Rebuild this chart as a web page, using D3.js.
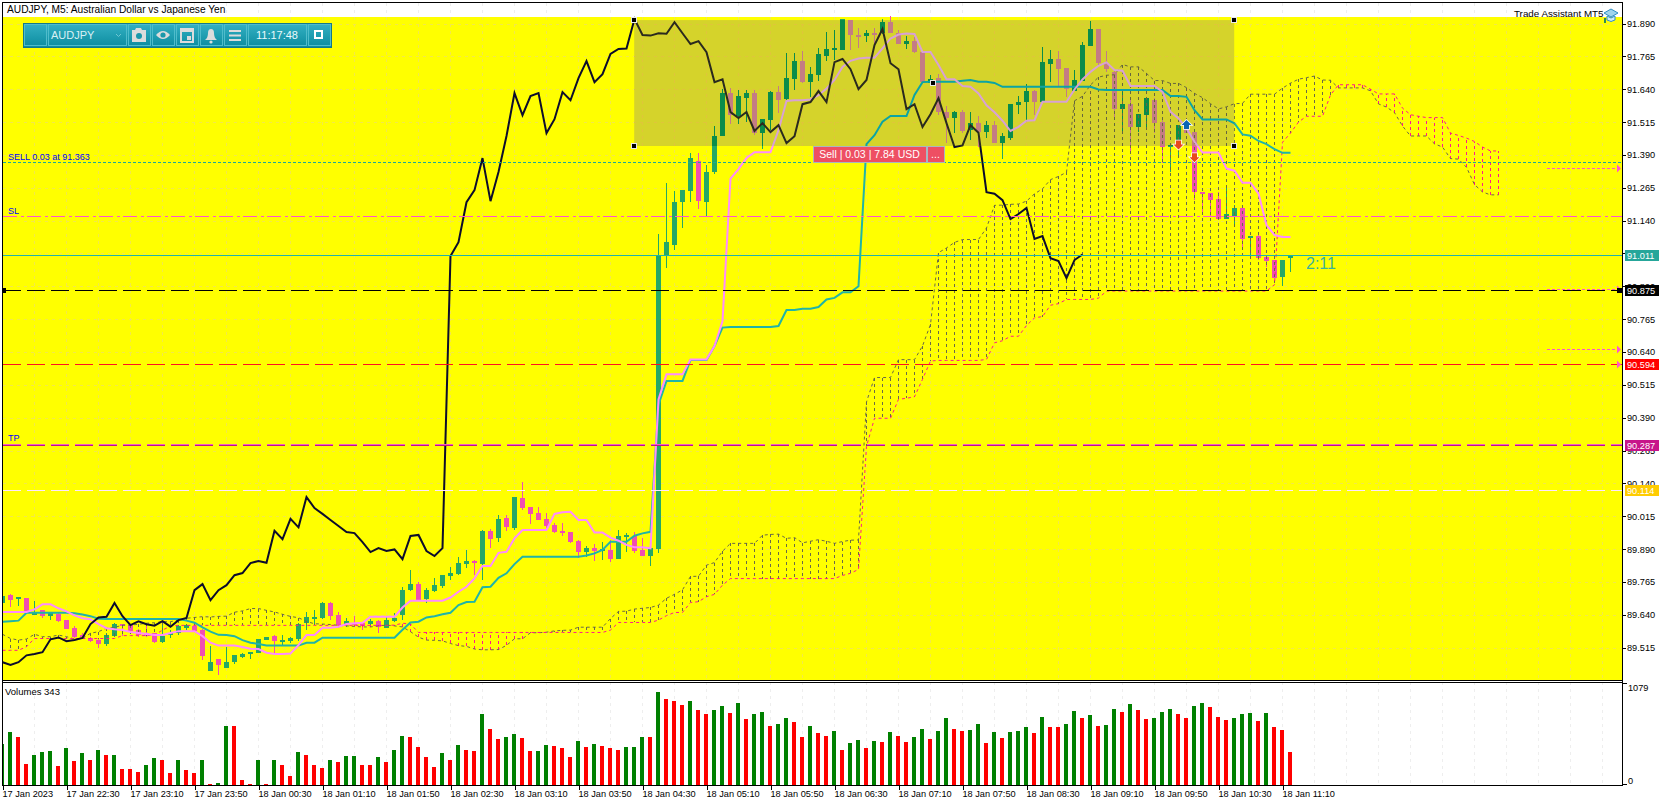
<!DOCTYPE html>
<html><head><meta charset="utf-8">
<script src="https://cdn.jsdelivr.net/npm/d3@7/dist/d3.min.js"></script>
<style>
html,body{margin:0;padding:0;background:#fff;overflow:hidden}
svg{display:block}
text{font-family:"Liberation Sans",Arial,sans-serif;font-size:9.2px;fill:#000}
</style></head><body>
<svg id="c" width="1670" height="806"></svg>
<script>
const opens=[89.684,89.715,89.705,89.704,89.646,89.658,89.637,89.643,89.620,89.590,89.562,89.553,89.544,89.529,89.559,89.605,89.601,89.582,89.570,89.570,
89.537,89.567,89.570,89.591,89.597,89.582,89.426,89.471,89.438,89.460,89.478,89.496,89.496,89.544,89.559,89.542,89.540,89.548,89.610,89.630,
89.628,89.685,89.639,89.605,89.609,89.608,89.604,89.615,89.591,89.618,89.641,89.734,89.757,89.699,89.732,89.751,89.789,89.795,89.833,89.846,
89.833,89.959,89.932,90.008,89.969,90.084,90.050,90.027,90.005,89.982,89.959,89.955,89.921,89.879,89.894,89.885,89.887,89.852,89.936,89.940,
89.887,89.864,89.890,91.005,91.047,91.210,91.252,91.366,91.210,91.325,91.462,91.625,91.538,91.606,91.625,91.473,91.522,91.629,91.602,91.678,
91.747,91.667,91.694,91.766,91.791,91.789,91.903,91.848,91.842,91.855,91.853,91.895,91.853,91.812,91.823,91.781,91.663,91.682,91.553,91.530,
91.553,91.484,91.511,91.477,91.503,91.435,91.454,91.579,91.591,91.633,91.591,91.735,91.755,91.720,91.633,91.671,91.804,91.869,91.739,91.705,
91.564,91.583,91.496,91.541,91.598,91.515,91.422,91.443,91.487,91.477,91.248,91.245,91.222,91.146,91.157,91.188,91.077,91.081,91.001,90.990,
90.925,90.996];
const highs=[89.715,89.719,89.708,89.704,89.692,89.658,89.646,89.646,89.620,89.597,89.570,89.557,89.553,89.570,89.608,89.605,89.605,89.585,89.605,89.572,
89.618,89.582,89.601,89.605,89.601,89.585,89.523,89.471,89.517,89.486,89.496,89.498,89.547,89.554,89.563,89.563,89.557,89.608,89.651,89.658,
89.687,89.687,89.652,89.627,89.635,89.614,89.624,89.620,89.633,89.646,89.747,89.810,89.766,89.741,89.779,89.791,89.823,89.859,89.887,89.849,
89.963,89.965,90.020,90.020,90.088,90.145,90.050,90.050,90.027,89.988,89.991,89.955,89.925,89.902,89.909,89.917,89.925,89.963,89.950,89.956,
89.931,89.894,91.089,91.283,91.252,91.256,91.397,91.397,91.351,91.500,91.640,91.644,91.637,91.637,91.637,91.526,91.634,91.652,91.777,91.777,
91.785,91.724,91.796,91.857,91.865,91.907,91.903,91.872,91.865,91.872,91.907,91.918,91.865,91.842,91.839,91.781,91.694,91.697,91.576,91.557,
91.560,91.553,91.538,91.519,91.519,91.473,91.583,91.614,91.659,91.637,91.800,91.789,91.785,91.720,91.713,91.819,91.899,91.869,91.785,91.713,
91.637,91.598,91.545,91.611,91.605,91.522,91.426,91.503,91.491,91.477,91.248,91.245,91.250,91.275,91.199,91.188,91.081,91.097,91.009,90.990,
90.990,91.011];
const lows=[89.677,89.671,89.674,89.646,89.643,89.627,89.620,89.613,89.585,89.553,89.553,89.538,89.515,89.523,89.557,89.559,89.576,89.557,89.557,89.534,
89.534,89.553,89.563,89.582,89.576,89.468,89.426,89.412,89.438,89.453,89.474,89.473,89.496,89.544,89.493,89.523,89.531,89.542,89.582,89.601,
89.624,89.620,89.589,89.595,89.592,89.582,89.595,89.572,89.589,89.614,89.620,89.732,89.696,89.686,89.728,89.741,89.772,89.791,89.819,89.791,
89.772,89.895,89.918,89.959,89.963,90.039,89.986,90.001,89.969,89.950,89.941,89.912,89.855,89.859,89.845,89.849,89.842,89.852,89.879,89.874,
89.864,89.826,89.874,90.959,91.028,91.112,91.210,91.184,91.155,91.317,91.462,91.507,91.507,91.515,91.465,91.412,91.484,91.548,91.598,91.637,
91.662,91.610,91.671,91.747,91.751,91.789,91.789,91.796,91.819,91.808,91.850,91.852,91.812,91.793,91.776,91.667,91.656,91.541,91.434,91.472,
91.472,91.446,91.420,91.453,91.434,91.374,91.446,91.545,91.515,91.541,91.591,91.667,91.649,91.611,91.633,91.671,91.804,91.732,91.706,91.522,
91.472,91.396,91.478,91.484,91.472,91.361,91.326,91.383,91.474,91.218,91.167,91.155,91.146,91.146,91.129,91.028,91.009,90.990,90.964,90.921,
90.891,90.945];
const closes=[89.712,89.698,89.707,89.656,89.648,89.635,89.646,89.616,89.586,89.557,89.557,89.542,89.529,89.562,89.605,89.599,89.578,89.563,89.561,89.537,
89.561,89.570,89.597,89.600,89.580,89.484,89.460,89.449,89.460,89.486,89.491,89.498,89.547,89.554,89.540,89.544,89.552,89.605,89.630,89.633,
89.685,89.635,89.601,89.615,89.604,89.599,89.616,89.595,89.620,89.628,89.734,89.757,89.696,89.734,89.753,89.791,89.799,89.837,89.845,89.838,
89.960,89.928,90.005,89.973,90.088,90.046,90.024,90.001,89.978,89.955,89.951,89.917,89.879,89.894,89.883,89.889,89.852,89.940,89.944,89.883,
89.864,89.894,91.005,91.058,91.210,91.256,91.378,91.214,91.325,91.462,91.625,91.541,91.614,91.625,91.473,91.526,91.629,91.598,91.682,91.747,
91.667,91.697,91.774,91.793,91.795,91.907,91.846,91.844,91.853,91.851,91.895,91.853,91.812,91.823,91.781,91.667,91.678,91.553,91.530,91.553,
91.481,91.511,91.477,91.503,91.435,91.461,91.583,91.591,91.633,91.591,91.743,91.755,91.716,91.640,91.675,91.808,91.869,91.739,91.716,91.564,
91.583,91.496,91.545,91.606,91.511,91.420,91.426,91.503,91.474,91.248,91.242,91.218,91.146,91.165,91.188,91.070,91.081,90.997,90.986,90.921,
90.990,91.011];
const tenkan=[89.651,89.651,89.651,89.651,89.661,89.680,89.680,89.665,89.653,89.638,89.627,89.623,89.605,89.589,89.585,89.582,89.575,89.571,89.567,89.563,
89.563,89.571,89.578,89.578,89.578,89.559,89.534,89.523,89.523,89.523,89.518,89.511,89.510,89.496,89.491,89.491,89.493,89.525,89.563,89.563,
89.591,89.591,89.595,89.605,89.608,89.610,89.633,89.633,89.633,89.633,89.668,89.694,89.694,89.694,89.694,89.694,89.706,89.728,89.747,89.779,
89.826,89.826,89.876,89.880,89.931,89.963,89.963,89.963,89.963,90.024,90.030,90.032,90.001,90.001,89.953,89.953,89.934,89.922,89.906,89.897,
89.897,89.893,90.460,90.555,90.555,90.555,90.612,90.612,90.612,90.663,90.757,91.300,91.336,91.378,91.400,91.400,91.400,91.484,91.595,91.598,
91.598,91.601,91.617,91.643,91.675,91.725,91.748,91.757,91.760,91.760,91.795,91.833,91.848,91.852,91.850,91.782,91.782,91.732,91.678,91.678,
91.652,91.649,91.624,91.579,91.552,91.520,91.481,91.497,91.520,91.522,91.592,91.592,91.592,91.592,91.639,91.677,91.706,91.729,91.742,91.713,
91.710,91.652,91.652,91.652,91.652,91.630,91.554,91.529,91.491,91.440,91.399,91.399,91.399,91.338,91.330,91.284,91.284,91.243,91.123,91.085,
91.078,91.078];
const kijun=[89.614,89.616,89.618,89.648,89.648,89.648,89.648,89.648,89.648,89.646,89.641,89.635,89.625,89.624,89.624,89.624,89.624,89.624,89.624,89.624,
89.624,89.624,89.624,89.618,89.610,89.592,89.576,89.564,89.563,89.559,89.544,89.534,89.529,89.523,89.523,89.523,89.523,89.523,89.534,89.534,
89.553,89.553,89.553,89.553,89.553,89.553,89.553,89.553,89.553,89.553,89.583,89.611,89.614,89.630,89.635,89.642,89.648,89.677,89.689,89.690,
89.745,89.747,89.781,89.798,89.833,89.861,89.861,89.861,89.861,89.861,89.861,89.861,89.861,89.866,89.874,89.887,89.918,89.918,89.918,89.941,
89.950,89.956,90.440,90.530,90.530,90.530,90.610,90.610,90.610,90.663,90.733,90.735,90.735,90.735,90.735,90.735,90.735,90.739,90.800,90.800,
90.805,90.805,90.811,90.840,90.846,90.867,90.867,90.890,91.431,91.465,91.516,91.538,91.538,91.538,91.618,91.667,91.668,91.668,91.668,91.668,
91.672,91.675,91.668,91.668,91.664,91.649,91.649,91.649,91.649,91.649,91.649,91.649,91.649,91.649,91.649,91.649,91.649,91.639,91.637,91.637,
91.637,91.637,91.637,91.637,91.637,91.637,91.614,91.614,91.611,91.560,91.525,91.525,91.525,91.525,91.510,91.468,91.463,91.443,91.431,91.412,
91.398,91.398];
const chikou=[89.460,89.449,89.460,89.486,89.491,89.498,89.547,89.554,89.540,89.544,89.552,89.605,89.630,89.633,89.685,89.635,89.601,89.615,89.604,89.599,
89.616,89.595,89.620,89.628,89.734,89.757,89.696,89.734,89.753,89.791,89.799,89.837,89.845,89.838,89.960,89.928,90.005,89.973,90.088,90.046,
90.024,90.001,89.978,89.955,89.951,89.917,89.879,89.894,89.883,89.889,89.852,89.940,89.944,89.883,89.864,89.894,91.005,91.058,91.210,91.256,
91.378,91.214,91.325,91.462,91.625,91.541,91.614,91.625,91.473,91.526,91.629,91.598,91.682,91.747,91.667,91.697,91.774,91.793,91.795,91.907,
91.846,91.844,91.853,91.851,91.895,91.853,91.812,91.823,91.781,91.667,91.678,91.553,91.530,91.553,91.481,91.511,91.477,91.503,91.435,91.461,
91.583,91.591,91.633,91.591,91.743,91.755,91.716,91.640,91.675,91.808,91.869,91.739,91.716,91.564,91.583,91.496,91.545,91.606,91.511,91.420,
91.426,91.503,91.474,91.248,91.242,91.218,91.146,91.165,91.188,91.070,91.081,90.997,90.986,90.921,90.990,91.011];
const spanA=[89.566,89.550,89.544,89.548,89.566,89.557,89.557,89.563,89.557,89.548,89.550,89.570,89.576,89.589,89.592,89.601,89.601,89.604,89.608,89.610,
89.614,89.614,89.620,89.627,89.630,89.633,89.632,89.634,89.635,89.650,89.655,89.664,89.664,89.657,89.651,89.642,89.634,89.629,89.615,89.606,
89.605,89.603,89.600,89.598,89.596,89.594,89.594,89.598,89.601,89.598,89.594,89.576,89.555,89.544,89.543,89.541,89.531,89.523,89.520,89.510,
89.507,89.507,89.508,89.524,89.549,89.549,89.572,89.572,89.574,89.579,89.581,89.582,89.593,89.593,89.593,89.593,89.626,89.653,89.654,89.662,
89.665,89.668,89.677,89.703,89.718,89.735,89.786,89.787,89.829,89.839,89.882,89.912,89.912,89.912,89.912,89.943,89.946,89.947,89.931,89.934,
89.914,89.920,89.926,89.920,89.912,89.919,89.924,89.925,90.450,90.543,90.543,90.543,90.611,90.611,90.611,90.663,90.745,91.018,91.036,91.057,
91.068,91.068,91.068,91.112,91.198,91.199,91.202,91.203,91.214,91.242,91.261,91.296,91.308,91.324,91.596,91.613,91.656,91.686,91.693,91.695,
91.734,91.725,91.725,91.700,91.673,91.673,91.662,91.662,91.646,91.624,91.608,91.585,91.565,91.573,91.585,91.586,91.621,91.621,91.621,91.621,
91.644,91.663,91.678,91.684,91.690,91.675,91.674,91.645,91.645,91.645,91.645,91.634,91.584,91.572,91.551,91.500,91.462,91.462,91.462,91.432,
91.420,91.376,91.374,91.343,91.277,91.249,91.238,91.238];
const spanB=[89.505,89.505,89.505,89.519,89.550,89.550,89.550,89.550,89.550,89.550,89.550,89.550,89.550,89.550,89.550,89.561,89.561,89.561,89.561,89.563,
89.582,89.597,89.600,89.600,89.600,89.600,89.600,89.600,89.600,89.600,89.600,89.600,89.600,89.600,89.600,89.600,89.600,89.600,89.600,89.600,
89.600,89.600,89.600,89.600,89.600,89.600,89.600,89.600,89.600,89.601,89.608,89.605,89.573,89.573,89.573,89.573,89.573,89.573,89.573,89.573,
89.573,89.573,89.573,89.573,89.573,89.573,89.573,89.573,89.573,89.573,89.573,89.573,89.573,89.573,89.573,89.573,89.582,89.611,89.611,89.611,
89.611,89.611,89.620,89.637,89.649,89.649,89.687,89.690,89.709,89.718,89.753,89.778,89.778,89.778,89.778,89.778,89.778,89.778,89.778,89.778,
89.778,89.778,89.778,89.778,89.778,89.790,89.798,89.813,90.281,90.388,90.388,90.388,90.460,90.464,90.470,90.536,90.606,90.608,90.608,90.608,
90.608,90.608,90.608,90.612,90.675,90.683,90.700,90.700,90.741,90.770,90.775,90.818,90.824,90.840,90.840,90.840,90.840,90.845,90.872,90.872,
90.872,90.872,90.872,90.872,90.872,90.872,90.872,90.872,90.872,90.872,90.872,90.872,90.872,90.872,90.872,90.872,90.872,90.872,90.872,90.896,
91.438,91.473,91.515,91.537,91.537,91.537,91.618,91.657,91.657,91.657,91.657,91.640,91.622,91.622,91.622,91.568,91.543,91.537,91.532,91.532,
91.532,91.473,91.464,91.454,91.441,91.420,91.405,91.405];
const volumes=[425,549,498,220,312,343,353,199,384,250,333,261,364,312,313,168,167,137,209,281,
261,127,261,158,127,261,14,24,611,610,55,14,261,14,261,209,96,343,312,209,
178,261,240,302,303,209,208,292,240,364,507,498,394,292,189,333,261,415,364,353,
734,579,477,498,529,487,353,354,415,405,384,292,457,394,425,405,384,364,394,395,
498,497,960,888,868,827,868,775,734,775,816,744,847,683,734,755,611,631,693,651,
498,611,538,507,559,364,435,466,384,457,446,549,507,446,498,579,477,559,693,579,
559,570,631,435,549,487,549,550,600,538,703,600,599,631,765,693,724,611,621,786,
755,837,775,683,684,755,786,734,693,816,847,806,703,672,693,734,735,662,744,600,
570,343];
const priceTicks=[91.890,91.765,91.640,91.515,91.390,91.265,91.140,91.015,90.890,90.765,90.640,90.515,90.390,90.265,90.140,90.015,89.890,89.765,89.640,89.515];
const timeTicks=[0,8,16,24,32,40,48,56,64,72,80,88,96,104,112,120,128,136,144,152,160];
const timeLabels=["17 Jan 2023","17 Jan 22:30","17 Jan 23:10","17 Jan 23:50","18 Jan 00:30","18 Jan 01:10","18 Jan 01:50","18 Jan 02:30","18 Jan 03:10","18 Jan 03:50","18 Jan 04:30","18 Jan 05:10","18 Jan 05:50","18 Jan 06:30","18 Jan 07:10","18 Jan 07:50","18 Jan 08:30","18 Jan 09:10","18 Jan 09:50","18 Jan 10:30","18 Jan 11:10"];
const sellPrice=91.363, slPrice=91.156, bidPrice=91.011, askLine=90.875, redLine=90.594, tpPrice=90.287, goldLine=90.114;
const alertLevels=[91.341,90.880,90.650];
const zone={from:78.9,to:153.9,high:91.903,low:91.424};
const anchorExtra={i:116.3,p:91.663};
const tradeMarks=[{i:148,p:91.504,up:true},{i:147,p:91.430,up:false},{i:149,p:91.381,up:false}];

const W=1670,H=806,L=3,R=1622,T=17,B=680;
const x=d3.scaleLinear().domain([0,161]).range([3,1291]);
const y=d3.scaleLinear().domain([89.515,91.89]).range([647.7,23.5]);
const volY=d3.scaleLinear().domain([0,1079]).range([785,680]);
const svg=d3.select("#c");
const defs=svg.append("defs");
defs.append("clipPath").attr("id","plot").append("rect").attr("x",L).attr("y",14).attr("width",R-L).attr("height",B-14);
defs.append("clipPath").attr("id","zoneClip").append("rect").attr("x",x(zone.from)).attr("y",y(zone.high)).attr("width",x(zone.to)-x(zone.from)).attr("height",y(zone.low)-y(zone.high));
defs.append("clipPath").attr("id","volClip").append("rect").attr("x",L).attr("y",683).attr("width",R-L).attr("height",102);
const grad=defs.append("linearGradient").attr("id","tb").attr("x1",0).attr("x2",0).attr("y1",0).attr("y2",1);
grad.append("stop").attr("offset",0).attr("stop-color","#35b1c4");
grad.append("stop").attr("offset",1).attr("stop-color","#0c8c9f");

svg.append("rect").attr("width",W).attr("height",H).attr("fill","#fff");
const gridX=d3.range(4,188+60,4).map(i=>x(i)).filter(v=>v<R);
svg.append("g").selectAll("line").data(gridX).join("line").attr("x1",d=>d-.5).attr("x2",d=>d-.5).attr("y1",3).attr("y2",785)
  .attr("stroke","#eeeeee").attr("stroke-dasharray","3,4").attr("shape-rendering","crispEdges");
svg.append("rect").attr("x",L).attr("y",T).attr("width",R-L).attr("height",B-T).attr("fill","#ffff00");

function gridLayer(g,c){
  g.append("g").selectAll("line").data(gridX).join("line").attr("x1",d=>d-.5).attr("x2",d=>d-.5).attr("y1",T).attr("y2",B)
    .attr("stroke",c).attr("stroke-dasharray","3,4").attr("shape-rendering","crispEdges");
  g.append("g").selectAll("line").data(priceTicks).join("line").attr("x1",L).attr("x2",R).attr("y1",d=>Math.round(y(d))+.5).attr("y2",d=>Math.round(y(d))+.5)
    .attr("stroke",c).attr("stroke-dasharray","3,4").attr("shape-rendering","crispEdges");
}
const idx=d3.range(closes.length);
const lineGen=(offset=0)=>d3.line().x((d,i)=>x(i+offset)-.5).y(d=>y(d));
function markLayer(g,p){
  const c=g.append("g").attr("shape-rendering","crispEdges");
  c.selectAll("rect.w").data(idx).join("rect").attr("class","w")
    .attr("x",i=>x(i)-1).attr("width",1).attr("y",i=>y(highs[i])).attr("height",i=>Math.max(1,y(lows[i])-y(highs[i])))
    .attr("fill",i=>closes[i]>=opens[i]?p.up:p.down);
  c.selectAll("rect.b").data(idx).join("rect").attr("class","b")
    .attr("x",i=>x(i)-3).attr("width",5).attr("y",i=>y(Math.max(opens[i],closes[i]))).attr("height",i=>Math.max(2,y(Math.min(opens[i],closes[i]))-y(Math.max(opens[i],closes[i]))))
    .attr("fill",i=>closes[i]>=opens[i]?p.up:p.down);
  const h=g.append("g").attr("shape-rendering","crispEdges");
  h.selectAll("line").data(spanA.map((a,i)=>({a,b:spanB[i],i}))).join("line")
    .attr("x1",d=>x(d.i)-.5).attr("x2",d=>x(d.i)-.5).attr("y1",d=>y(d.a)).attr("y2",d=>y(d.b))
    .attr("stroke",d=>d.a>=d.b?p.spanA:p.spanB).attr("stroke-dasharray","3,3");
  g.append("path").attr("d",lineGen()(spanA)).attr("fill","none").attr("stroke",p.spanA).attr("stroke-dasharray","3,3");
  g.append("path").attr("d",lineGen()(spanB)).attr("fill","none").attr("stroke",p.spanB).attr("stroke-dasharray","3,3");
  g.append("path").attr("d",lineGen()(kijun)).attr("fill","none").attr("stroke",p.kijun).attr("stroke-width",2);
  g.append("path").attr("d",lineGen()(tenkan)).attr("fill","none").attr("stroke",p.tenkan).attr("stroke-width",2);
  g.append("path").attr("d",lineGen()(chikou)).attr("fill","none").attr("stroke",p.chikou).attr("stroke-width",2);
}
const plot=svg.append("g").attr("clip-path","url(#plot)");
gridLayer(plot,"#f2e84a");
markLayer(plot,{up:"#25a866",down:"#f04fb0",spanA:"#6a6a48",spanB:"#ff1a8c",kijun:"#20b4a8",tenkan:"#ff8cff",chikou:"#0c0c2c"});
plot.append("rect").attr("x",x(zone.from)).attr("y",y(zone.high)).attr("width",x(zone.to)-x(zone.from)).attr("height",y(zone.low)-y(zone.high)).attr("fill","#d5d32b");
const zg=plot.append("g").attr("clip-path","url(#zoneClip)");
gridLayer(zg,"#dfc53a");
markLayer(zg,{up:"#0a8c4a",down:"#c47c84",spanA:"#66663e",spanB:"#c84a7c",kijun:"#0ca4a4",tenkan:"#d8a2d4",chikou:"#2a2a1e"});

const hl=svg.append("g").attr("shape-rendering","crispEdges");
function level(p,color,dash,w=1,dy=0){const yy=Math.round(y(p))+.5+dy;hl.append("line").attr("x1",L).attr("x2",R).attr("y1",yy).attr("y2",yy).attr("stroke",color).attr("stroke-width",w).attr("stroke-dasharray",dash||null);}
level(sellPrice,"#18a89c","3,2");
level(slPrice,"#ff55cc","14,4,3,3");
level(bidPrice,"#20b2aa",null);
level(askLine,"#000","18,6");
level(redLine,"#ff1020","18,6");
level(tpPrice,"#c0108c","18,6");
level(tpPrice,"#f060c0","18,6",1,-1);
level(goldLine,"#ffe6ff","18,6",1);
const al=svg.append("g");
alertLevels.forEach(p=>{
  const yy=Math.round(y(p))+.5;
  al.append("line").attr("x1",1547).attr("x2",1616).attr("y1",yy).attr("y2",yy).attr("stroke","#ff55cc").attr("stroke-dasharray","3,2").attr("shape-rendering","crispEdges");
  al.append("path").attr("d",`M1617 ${yy-4}L1621 ${yy}L1617 ${yy+4}Z`).attr("fill","#ff55cc");
});
al.append("path").attr("d",`M1617 ${y(redLine)-3.5}L1621 ${y(redLine)+.5}L1617 ${y(redLine)+4.5}Z`).attr("fill","#ff55cc");
svg.append("rect").attr("x",3).attr("y",288).attr("width",3).attr("height",5).attr("fill","#000");
svg.append("rect").attr("x",1617).attr("y",288).attr("width",5).attr("height",5).attr("fill","#000");

tradeMarks.forEach(m=>{
  const cx=x(m.i)-.5, cy=y(m.p), s=m.up?-1:1, col=m.up?"#0a64b4":"#e8481c";
  const d=`M${cx} ${cy+s*5}L${cx-5} ${cy}L${cx-2.5} ${cy}L${cx-2.5} ${cy-s*4}L${cx+2.5} ${cy-s*4}L${cx+2.5} ${cy}L${cx+5} ${cy}Z`;
  svg.append("path").attr("d",d).attr("fill",col).attr("stroke","#fff").attr("stroke-width",1.5).attr("paint-order","stroke");
});
[[zone.from,zone.high],[zone.to,zone.high],[zone.from,zone.low],[zone.to,zone.low],[anchorExtra.i,anchorExtra.p]].forEach(([i,p])=>{
  const cx=x(i),cy=y(p);
  svg.append("rect").attr("x",cx-2.5).attr("y",cy-2.5).attr("width",5).attr("height",5).attr("fill","#000").attr("stroke","#e8e8e8").attr("shape-rendering","crispEdges");
});

const tl=svg.append("g");
tl.append("rect").attr("x",813).attr("y",146).attr("width",113).attr("height",16).attr("fill","#ee4f63").attr("stroke","#a8b8c0").attr("shape-rendering","crispEdges");
tl.append("rect").attr("x",927).attr("y",146).attr("width",17).attr("height",16).attr("fill","#ee4f63").attr("stroke","#a8b8c0").attr("shape-rendering","crispEdges");
tl.append("text").attr("x",869.5).attr("y",158).attr("text-anchor","middle").style("font-size","10.5px").style("fill","#fff").text("Sell | 0.03 | 7.84 USD");
tl.append("text").attr("x",935.5).attr("y",158).attr("text-anchor","middle").style("font-size","10.5px").style("fill","#fff").text("...");

[["SELL 0.03 at 91.363",160],["SL",214],["TP",441]].forEach(([t,yy])=>{
  svg.append("text").attr("x",8).attr("y",yy).style("fill","#0000ff").style("font-size","9px").text(t);
});
svg.append("text").attr("x",1306).attr("y",269).style("font-size","16px").style("fill","#3cb29a").text("2:11");

const ya=svg.append("g").attr("transform",`translate(${R},0)`).call(d3.axisRight(y).tickValues(priceTicks).tickFormat(d3.format(".3f")).tickSize(4).tickPadding(1));
ya.select(".domain").remove();
ya.selectAll("line").attr("shape-rendering","crispEdges").attr("stroke","#000");
ya.selectAll("text").style("font-size","9.2px").style("font-family",'"Liberation Sans"');
[[bidPrice,"#26a69a","#fff"],[askLine,"#000","#fff"],[redLine,"#ff0000","#fff"],[tpPrice,"#c7158a","#fff"],[goldLine,"#ffcc00","#fff"]].forEach(([p,bg,fg])=>{
  const yy=Math.round(y(p));
  svg.append("rect").attr("x",1625).attr("y",yy-5).attr("width",34).attr("height",11).attr("fill",bg);
  svg.append("text").attr("x",1627).attr("y",yy+4).style("fill",fg).style("font-size","9.2px").text(d3.format(".3f")(p));
});
const fr=svg.append("g").attr("shape-rendering","crispEdges").attr("stroke","#000").attr("fill","none");
fr.append("line").attr("x1",2.5).attr("x2",1622.5).attr("y1",2.5).attr("y2",2.5);
fr.append("line").attr("x1",2.5).attr("x2",2.5).attr("y1",2).attr("y2",786);
fr.append("line").attr("x1",R+.5).attr("x2",R+.5).attr("y1",2).attr("y2",786);
fr.append("line").attr("x1",2).attr("x2",R).attr("y1",680.5).attr("y2",680.5);
fr.append("line").attr("x1",2).attr("x2",R).attr("y1",682.5).attr("y2",682.5);

const vg=svg.append("g").attr("clip-path","url(#volClip)").attr("shape-rendering","crispEdges");
vg.selectAll("rect").data(volumes).join("rect").attr("x",(d,i)=>x(i)-3).attr("width",4).attr("y",d=>volY(d)).attr("height",d=>785-volY(d))
  .attr("fill",(d,i)=>(i===0||d>volumes[i-1])?"#008000":"#ff0000");
const xa=svg.append("g").attr("transform","translate(0,785)").call(d3.axisBottom(x).tickValues(timeTicks).tickFormat((d,i)=>timeLabels[i]).tickSize(5).tickPadding(2));
xa.select(".domain").attr("d","M2,0.5H1622");
xa.selectAll("line").attr("shape-rendering","crispEdges").attr("stroke","#000").attr("x1",-.5).attr("x2",-.5);
xa.selectAll("text").attr("text-anchor","start").attr("x",-1).attr("y",5).style("font-size","9.2px").style("font-family",'"Liberation Sans"');
const vTicks=[[1079,volY(1079)+3.5],[0,784.5]];
vTicks.forEach(([v,yy])=>{
  svg.append("line").attr("x1",R).attr("x2",R+5).attr("y1",yy).attr("y2",yy).attr("stroke","#000").attr("shape-rendering","crispEdges");
  svg.append("text").attr("x",R+6).attr("y",v?691:784).text(v);
});
svg.append("text").attr("x",5).attr("y",695).style("font-size","9.5px").text("Volumes 343");

svg.append("text").attr("x",7).attr("y",13).style("font-size","10.2px").text("AUDJPY, M5:  Australian Dollar vs Japanese Yen");
svg.append("text").attr("x",1514).attr("y",17).style("font-size","9.8px").text("Trade Assistant MT5");
const cap=svg.append("g").attr("transform","translate(1604,8)");
cap.append("path").attr("d","M0 5L7 1L14 5L7 9Z").attr("fill","#9fd4ee").attr("stroke","#2f8fc4");
cap.append("path").attr("d","M3 8V12Q7 15 11 12V8L7 10Z").attr("fill","#cfeaf7").attr("stroke","#2f8fc4");
cap.append("rect").attr("x",0).attr("y",10).attr("width",2).attr("height",5).attr("fill","#2e8b57");

const tb=svg.append("g");
tb.append("rect").attr("x",23).attr("y",23).attr("width",308).attr("height",24).attr("fill","url(#tb)").attr("stroke","#14788a").attr("shape-rendering","crispEdges");
[[24,22],[48,78],[128,22],[152,22],[176,22],[200,22],[224,22],[248,58],[308,22]].forEach(([bx,bw])=>{
  tb.append("rect").attr("x",bx+.5).attr("y",24.5).attr("width",bw).attr("height",21).attr("fill","none").attr("stroke","#4fbccb").attr("shape-rendering","crispEdges");
});
tb.append("text").attr("x",51).attr("y",38.5).style("font-size","11px").style("fill","#d8f0f4").text("AUDJPY");
tb.append("path").attr("d","M116 34L118.5 36.5L121 34").attr("fill","none").attr("stroke","#6fc6d2");
tb.append("text").attr("x",277).attr("y",38.5).attr("text-anchor","middle").style("font-size","11px").style("fill","#eafafc").text("11:17:48");
const ic="#dcdcdc";
tb.append("path").attr("d","M132 30H135L136 28H141L142 30H146V42H132Z").attr("fill",ic);
tb.append("circle").attr("cx",139).attr("cy",36).attr("r",3).attr("fill","#1a98aa");
tb.append("path").attr("d","M156 35Q163 27 170 35Q163 43 156 35Z").attr("fill",ic);
tb.append("circle").attr("cx",163).attr("cy",35).attr("r",2.6).attr("fill","#1a98aa");
tb.append("rect").attr("x",181).attr("y",29).attr("width",12).attr("height",13).attr("fill","none").attr("stroke",ic).attr("stroke-width",2);
tb.append("rect").attr("x",181).attr("y",29).attr("width",12).attr("height",3).attr("fill",ic);
tb.append("rect").attr("x",187).attr("y",36).attr("width",4).attr("height",4).attr("fill",ic);
tb.append("path").attr("d","M205 40Q208 38 208 33Q208 29 211 29Q214 29 214 33Q214 38 217 40Z").attr("fill",ic);
tb.append("circle").attr("cx",211).attr("cy",42).attr("r",1.6).attr("fill",ic);
[30,34.5,39].forEach(yy=>tb.append("rect").attr("x",229).attr("y",yy).attr("width",12).attr("height",2).attr("fill",ic));
tb.append("rect").attr("x",315).attr("y",31).attr("width",7).attr("height",7).attr("fill","none").attr("stroke","#fff").attr("stroke-width",2);
</script>
</body></html>
